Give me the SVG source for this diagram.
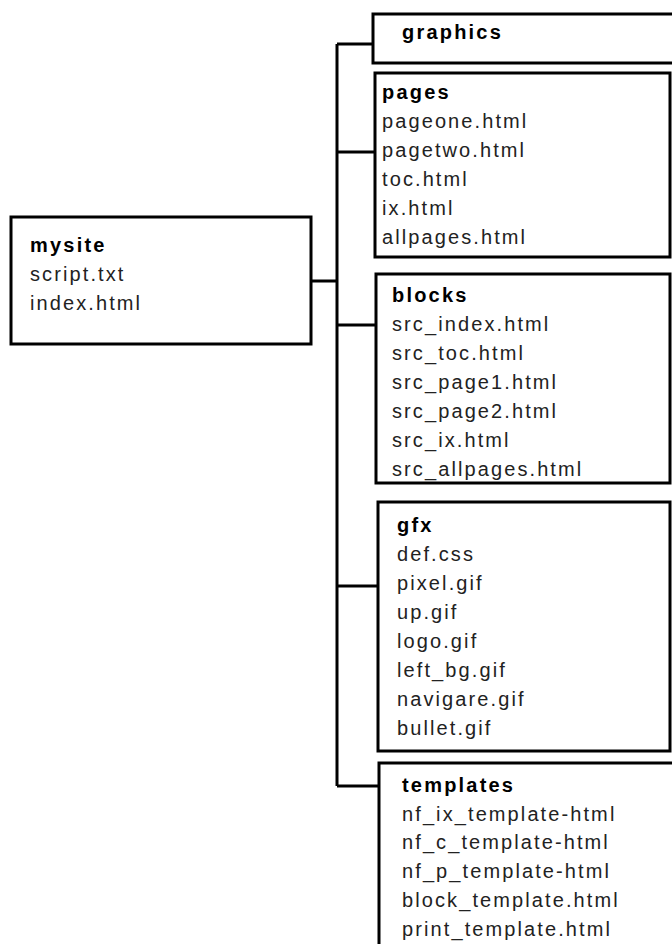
<svg xmlns="http://www.w3.org/2000/svg" width="672" height="944" viewBox="0 0 672 944">
<style>
.box{fill:#fff;stroke:#000;stroke-width:3}
.t{font-family:"Liberation Sans",Arial,sans-serif;font-size:20px;letter-spacing:2.1px;fill:#222}
.h{font-weight:bold;fill:#000;letter-spacing:2.2px}
.c{fill:none;stroke:#000;stroke-width:3}
</style>
<rect width="672" height="944" fill="#fff"/>
<g id="connectors">
<path class="c" d="M311 281H337M337 44V786M337 44H373M337 152H375M337 325H376M337 586H378M337 786H379"/>
</g>
<g id="mysite">
<rect class="box" x="11" y="217" width="300" height="127"/>
<text class="t h" x="30" y="252">mysite</text>
<text class="t" x="30" y="281">script.txt</text>
<text class="t" x="30" y="310">index.html</text>
</g>
<g id="graphics">
<rect class="box" x="373" y="14" width="320" height="49"/>
<text class="t h" x="402" y="39">graphics</text>
</g>
<g id="pages">
<rect class="box" x="375" y="73" width="295" height="184"/>
<text class="t h" x="382" y="99">pages</text>
<text class="t" x="382" y="128">pageone.html</text>
<text class="t" x="382" y="157">pagetwo.html</text>
<text class="t" x="382" y="186">toc.html</text>
<text class="t" x="382" y="215">ix.html</text>
<text class="t" x="382" y="244">allpages.html</text>
</g>
<g id="blocks">
<rect class="box" x="376" y="274" width="294" height="209"/>
<text class="t h" x="392" y="302">blocks</text>
<text class="t" x="392" y="331">src_index.html</text>
<text class="t" x="392" y="360">src_toc.html</text>
<text class="t" x="392" y="389">src_page1.html</text>
<text class="t" x="392" y="418">src_page2.html</text>
<text class="t" x="392" y="447">src_ix.html</text>
<text class="t" x="392" y="476">src_allpages.html</text>
</g>
<g id="gfx">
<rect class="box" x="378" y="502" width="292" height="249"/>
<text class="t h" x="397" y="532">gfx</text>
<text class="t" x="397" y="561">def.css</text>
<text class="t" x="397" y="590">pixel.gif</text>
<text class="t" x="397" y="619">up.gif</text>
<text class="t" x="397" y="648">logo.gif</text>
<text class="t" x="397" y="677">left_bg.gif</text>
<text class="t" x="397" y="706">navigare.gif</text>
<text class="t" x="397" y="735">bullet.gif</text>
</g>
<g id="templates">
<rect class="box" x="379" y="763" width="320" height="220"/>
<text class="t h" x="402" y="792">templates</text>
<text class="t" x="402" y="821">nf_ix_template-html</text>
<text class="t" x="402" y="849">nf_c_template-html</text>
<text class="t" x="402" y="878">nf_p_template-html</text>
<text class="t" x="402" y="907">block_template.html</text>
<text class="t" x="402" y="936">print_template.html</text>
</g>
</svg>
